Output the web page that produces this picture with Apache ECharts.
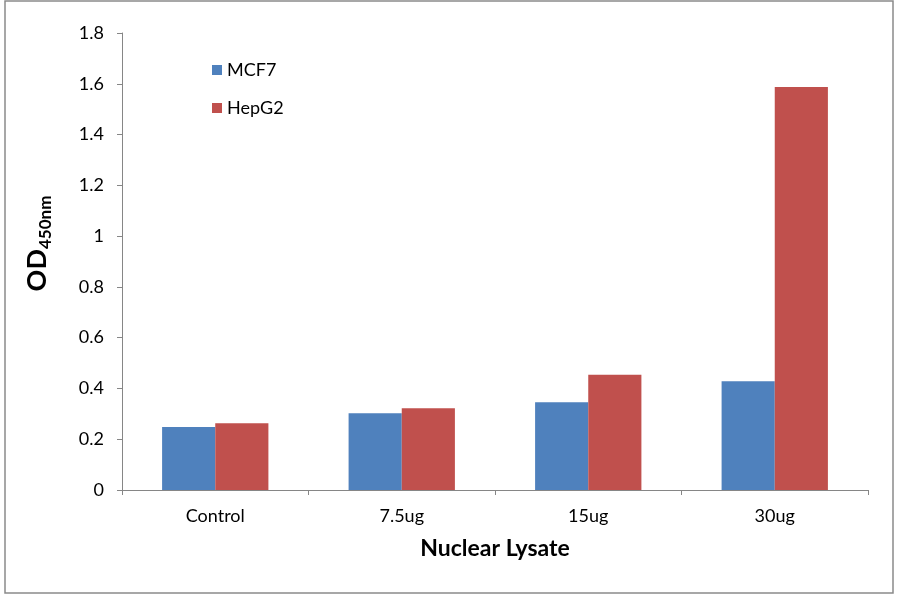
<!DOCTYPE html>
<html>
<head>
<meta charset="utf-8">
<script src="https://cdn.jsdelivr.net/npm/echarts@6/dist/echarts.min.js"></script>
<style>
html,body{margin:0;padding:0;background:#fff;}
#c{width:900px;height:594px;}
</style>
</head>
<body>
<div id="c"></div>
<script>
var categories = ['Control', '7.5ug', '15ug', '30ug'];
var mcf7 = [0.248, 0.302, 0.346, 0.428];
var hepg2 = [0.263, 0.322, 0.454, 1.587];
var seriesNames = ['MCF7', 'HepG2'];

var FONT = 'Lato';
var chart = echarts.init(document.getElementById('c'));
chart.setOption({
  animation: false,
  backgroundColor: '#fff',
  textStyle: { fontFamily: FONT },
  graphic: [{
    type: 'rect',
    shape: { x: 5, y: 1, width: 888, height: 592 },
    style: { fill: 'none', stroke: '#8a8a8a', lineWidth: 1.5 },
    silent: true
  }],
  legend: {
    orient: 'vertical',
    left: 212,
    top: 61,
    padding: 0,
    itemWidth: 10,
    itemHeight: 10,
    itemGap: 20,
    icon: 'rect',
    textStyle: { fontFamily: FONT, fontSize: 18, color: '#000' },
    data: seriesNames
  },
  grid: { left: 122, right: 32, top: 33, bottom: 104, containLabel: false },
  xAxis: {
    type: 'category',
    data: categories,
    name: 'Nuclear Lysate',
    nameLocation: 'middle',
    nameGap: 47,
    nameTextStyle: { fontFamily: FONT, fontSize: 23, fontWeight: 'bold', color: '#000' },
    axisLine: { lineStyle: { color: '#868686', width: 1 } },
    axisTick: { show: true, length: 5, lineStyle: { color: '#868686' } },
    axisLabel: { fontFamily: FONT, fontSize: 18, color: '#000', margin: 17 }
  },
  yAxis: {
    type: 'value',
    min: 0,
    max: 1.8,
    interval: 0.2,
    name: '{a|OD}{b|450nm}',
    nameLocation: 'middle',
    nameRotate: 90,
    nameGap: 68,
    nameTextStyle: {
      rich: {
        a: { fontFamily: FONT, fontSize: 27, fontWeight: 'bold', color: '#000', lineHeight: 30, verticalAlign: 'top', padding: [0, 0, 4, 36] },
        b: { fontFamily: FONT, fontSize: 17, fontWeight: 'bold', color: '#000', lineHeight: 17, verticalAlign: 'bottom' }
      }
    },
    splitLine: { show: false },
    axisLine: { show: true, lineStyle: { color: '#868686', width: 1 } },
    axisTick: { show: true, length: 5, lineStyle: { color: '#868686' } },
    axisLabel: { fontFamily: FONT, fontSize: 18, color: '#000', margin: 18 }
  },
  series: [
    { name: seriesNames[0], type: 'bar', data: mcf7, barGap: '0%', barCategoryGap: '43%', itemStyle: { color: '#4F81BD' } },
    { name: seriesNames[1], type: 'bar', data: hepg2, barGap: '0%', barCategoryGap: '43%', itemStyle: { color: '#C0504D' } }
  ]
});
</script>
</body>
</html>
